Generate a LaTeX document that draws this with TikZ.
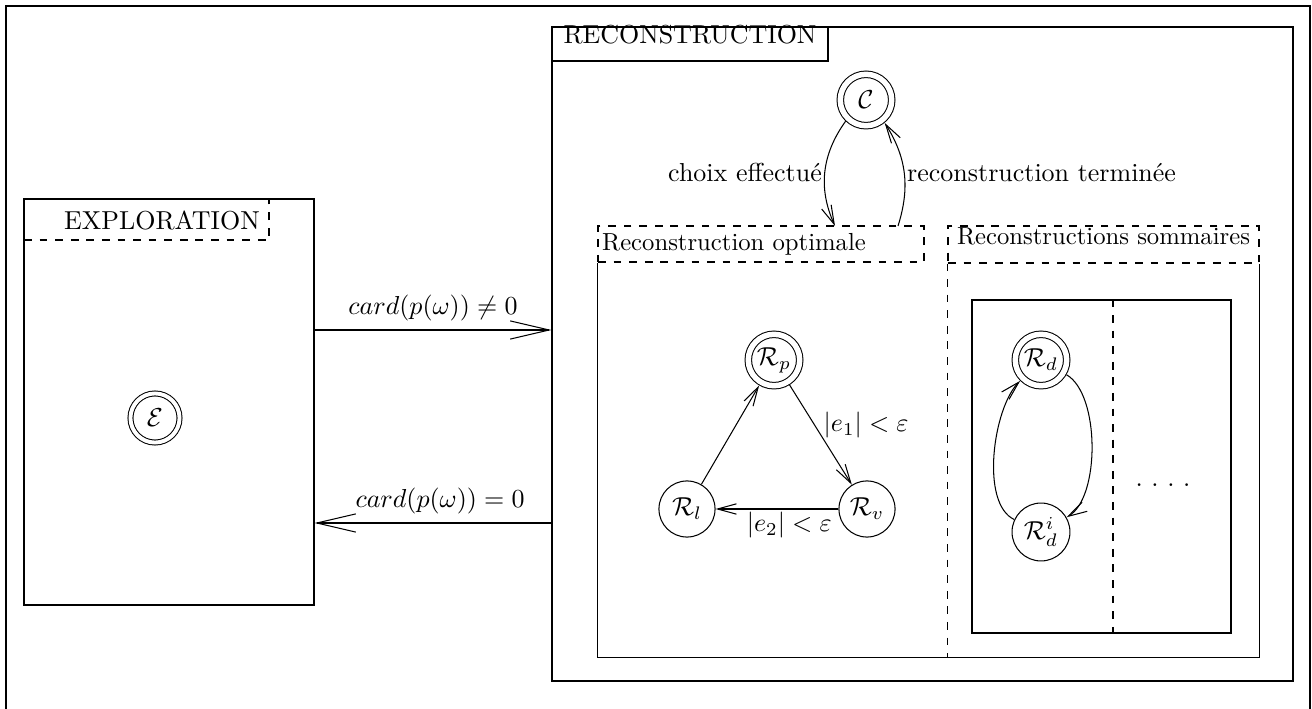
\documentclass[tikz,border=0pt]{standalone}
\usepackage{amssymb}
\usetikzlibrary{arrows.meta, fit, positioning}
\tikzstyle{state} = [
  circle,
  draw=black,
  minimum size=21.6pt,
  inner sep=0pt
]
\tikzstyle{finalstate} = [
  state,
  double,
  double distance=2.1pt,
  minimum size=19.8pt,
  outer sep=1.45pt
]
\tikzstyle{block} = [
  rectangle,
  draw=black,
  inner sep=0pt
]
\tikzstyle{subtitle} = [font=\fontsize{9.5}{11}\selectfont]
\tikzstyle{arrow} = [->, >={Straight Barb[length=7.3pt, width=4pt]}]
\tikzstyle{bigarrow} = [->, >={Straight Barb[length=15pt, width=7pt]}]

\begin{document}
\begin{tikzpicture}[x=0.385pt, y=0.385pt]
    \useasboundingbox (0,0) rectangle (1312,-709);
    \draw [line width=0.9pt] (6,-709) -- (6,-6) -- (1310,-6) -- (1310,-709);

    % exploration
    \node (exploration) [block, fit={(24,-199) (314,-605)}] {};
    \node (expl-title) [block, dashed, fit={(24,-199) (269,-240)}] {};
    \node (expl-label) at (162,-220) {EXPLORATION};
    \node (e-state) [finalstate, double distance=1.5pt, minimum size=18.9pt] at (155,-418) {$\mathcal{E}$};

    % reconstruction
    \node (reconstruction) [block, fit={(552,-27) (1293,-681)}] {};
    \node (recon-title) [block, fit={(552,-27) (828,-61)}] {RECONSTRUCTION};
    \node (c-state) [finalstate] at (866,-100) {$\mathcal{C}$};
    \node (strategies) [inner sep=0pt, fit={(598,-226) (1259,-657)}] {};
    \node (opt-title) [block, dashed, fit={(598,-226) (924,-262)}] {};
    \node (opt-label) [subtitle, anchor=west, inner sep=1pt] at (599,-244) {Reconstruction optimale};
    \node (somm-title) [block, dashed, subtitle, fit={(948,-226) (1259,-263)}] {Reconstructions sommaires};
    \coordinate (choice-in) at (835,-226);
    \coordinate (done-out) at (898,-226);

    % optimale
    \node (rp) [finalstate] at (774,-360) {$\mathcal{R}_p$};
    \node (rl) [state] at (687,-509) {$\mathcal{R}_l$};
    \node (rv) [state] at (867,-509) {$\mathcal{R}_v$};

    % sommaires
    \node (somm-box) [block, fit={(972,-300) (1231,-633)}] {};
    \coordinate (split) at (1113,0);
    \node (rd) [finalstate] at (1041,-360) {$\mathcal{R}_d$};
    \node (rdi) [state, minimum size=22.3pt] at (1041,-532) {$\mathcal{R}_d^i$};
    \node (more) at (1163,-485) {.\ .\ .\ .};

    \coordinate (row-top) at (0,-330);
    \coordinate (row-bottom) at (0,-523);

    \draw (opt-title.south west) -- (strategies.south west) -- (strategies.south east) -- (somm-title.south east);
    \draw [dashed] (somm-title.south west) -- (somm-title.south west |- strategies.south);
    \draw [dashed] (somm-box.north -| split) -- (somm-box.south -| split);

    \draw [bigarrow] (exploration.east |- row-top) -- node[above] {$card(p(\omega)) \neq 0$} (reconstruction.west |- row-top);
    \draw [bigarrow] (reconstruction.west |- row-bottom) -- node[pos=0.47, above] {$card(p(\omega)) = 0$} (exploration.east |- row-bottom);
    \draw [arrow] (c-state) to[bend right=30] node[left, inner sep=1pt] {choix effectu\'e} (choice-in);
    \draw [arrow] (done-out) to[bend right=25] node[right, inner sep=1pt] {reconstruction termin\'ee} (c-state);
    \draw [arrow] (rl) -- (rp);
    \draw [arrow] (rp) -- node[pos=0.4, right] {$|e_1| < \varepsilon$} (rv);
    \draw [arrow] (rv) -- node[pos=0.4, below, inner sep=1pt] {$|e_2| < \varepsilon$} (rl);
    \draw [arrow] (rd) to[out=-30, in=30, looseness=0.7] (rdi);
    \draw [arrow] (rdi) to[out=155, in=-135, looseness=0.7] (rd);
  \end{tikzpicture}
\end{document}
